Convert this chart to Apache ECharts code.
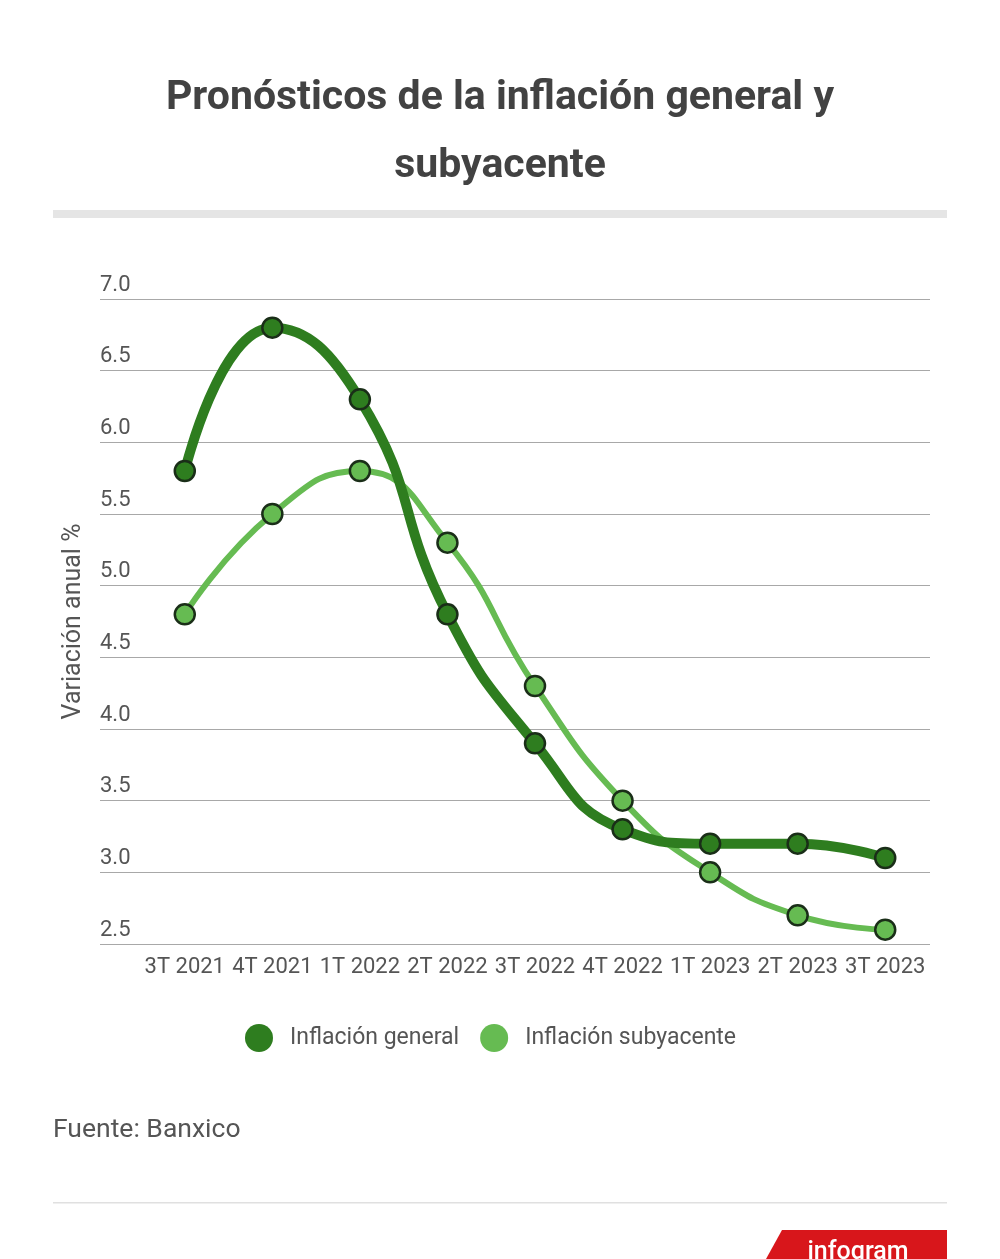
<!DOCTYPE html>
<html>
<head>
<meta charset="utf-8">
<script src="https://cdn.jsdelivr.net/npm/echarts@6/dist/echarts.min.js"></script>
<style>
html,body{margin:0;padding:0;background:#fff;}
#chart{width:1000px;height:1259px;}
</style>
</head>
<body>
<div id="chart"></div>
<script>
const categories = ['3T 2021','4T 2021','1T 2022','2T 2022','3T 2022','4T 2022','1T 2023','2T 2023','3T 2023'];
const inflacionGeneral = [5.8, 6.8, 6.3, 4.8, 3.9, 3.3, 3.2, 3.2, 3.1];
const inflacionSubyacente = [4.8, 5.5, 5.8, 5.3, 4.3, 3.5, 3.0, 2.7, 2.6];
const seriesNames = ['Inflación general', 'Inflación subyacente'];
const yTicks = { min: 2.5, max: 7.0, interval: 0.5 };

const darkGreen = '#2e7d1f';
const lightGreen = '#66bb52';
const font = 'Roboto, "Noto Sans", sans-serif';

const chart = echarts.init(document.getElementById('chart'), null, { renderer: 'canvas' });

const option = {
  backgroundColor: '#ffffff',
  animation: false,
  legend: {
    top: 1019,
    left: 240,
    itemWidth: 28,
    itemHeight: 28,
    itemGap: 21,
    icon: 'circle',
    data: seriesNames,
    textStyle: { fontFamily: font, fontSize: 23, color: '#555555', padding: [0, 0, 0, 12] },
    itemStyle: { borderWidth: 0 }
  },
  grid: [
    { left: 100, right: 70, top: 299, bottom: 1259 - 944 },
    { left: 141, right: 71, top: 299, bottom: 1259 - 944 }
  ],
  xAxis: [
    { type: 'category', gridIndex: 0, data: categories, show: false },
    {
      type: 'category', gridIndex: 1, data: categories, boundaryGap: true,
      axisLine: { show: false }, axisTick: { show: false },
      axisLabel: { fontFamily: font, fontSize: 22, color: '#555555', margin: 12, interval: 0 }
    }
  ],
  yAxis: [
    {
      type: 'value', gridIndex: 0, min: yTicks.min, max: yTicks.max, interval: yTicks.interval,
      name: 'Variación anual %', nameLocation: 'middle', nameGap: 14, nameRotate: 90,
      nameTextStyle: { fontFamily: font, fontSize: 25, color: '#555555' },
      axisLine: { show: false }, axisTick: { show: false },
      splitLine: { lineStyle: { color: '#a8a8a8', width: 1.2 } },
      axisLabel: {
        inside: true, verticalAlign: 'bottom', margin: 0, padding: [0, 0, 3, 0],
        fontFamily: font, fontSize: 22, color: '#555555',
        formatter: v => v.toFixed(1)
      }
    },
    {
      type: 'value', gridIndex: 1, min: yTicks.min, max: yTicks.max, interval: yTicks.interval,
      show: false, splitLine: { show: false }
    }
  ],
  series: [
    {
      name: seriesNames[0], type: 'line', xAxisIndex: 1, yAxisIndex: 1,
      data: inflacionGeneral, smooth: 0.5,
      symbol: 'circle', symbolSize: 20,
      lineStyle: { color: darkGreen, width: 10 },
      itemStyle: { color: darkGreen, borderColor: '#1a2e18', borderWidth: 2.5 },
      z: 3
    },
    {
      name: seriesNames[1], type: 'line', xAxisIndex: 1, yAxisIndex: 1,
      data: inflacionSubyacente, smooth: 0.5,
      symbol: 'circle', symbolSize: 20,
      lineStyle: { color: lightGreen, width: 6 },
      itemStyle: { color: lightGreen, borderColor: '#1a2e18', borderWidth: 2.5 },
      z: 2
    }
  ],
  graphic: [
    { type: 'text', x: 500, y: 99, style: { text: 'Pronósticos de la inflación general y', fontFamily: font, fontWeight: 'bold', fontSize: 41, fill: '#424242', align: 'center', verticalAlign: 'middle' } },
    { type: 'text', x: 500, y: 167, style: { text: 'subyacente', fontFamily: font, fontWeight: 'bold', fontSize: 41, fill: '#424242', align: 'center', verticalAlign: 'middle' } },
    { type: 'rect', shape: { x: 53, y: 210, width: 894, height: 8 }, style: { fill: '#e5e5e5' } },
    { type: 'text', x: 53, y: 1130, style: { text: 'Fuente: Banxico', fontFamily: font, fontSize: 26.5, fill: '#555555', verticalAlign: 'middle' } },
    { type: 'rect', shape: { x: 53, y: 1202, width: 894, height: 1.5 }, style: { fill: '#e0e0e0' } },
    { type: 'polygon', shape: { points: [[782, 1230], [947, 1230], [947, 1259], [766, 1259]] }, style: { fill: '#d8161b' } },
    { type: 'text', x: 858, y: 1240, style: { text: 'infogram', fontFamily: font, fontWeight: 500, fontSize: 25, fill: '#ffffff', align: 'center' } }
  ]
};

chart.setOption(option);
</script>
</body>
</html>
